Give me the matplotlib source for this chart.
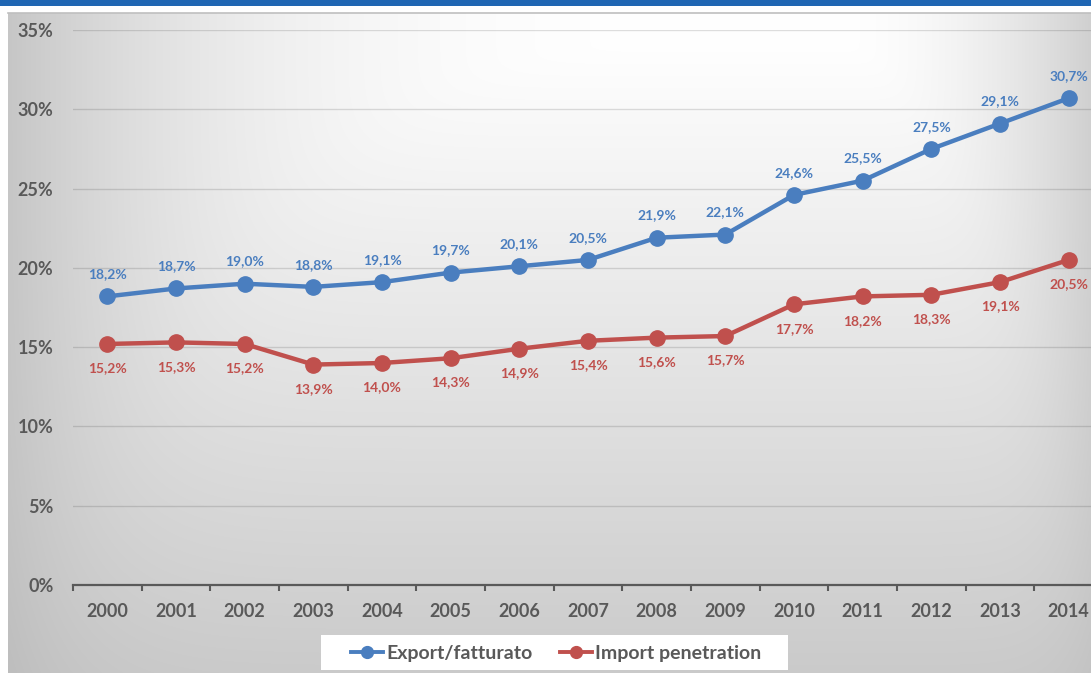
import numpy as np
import matplotlib
matplotlib.use("Agg")
import matplotlib.pyplot as plt
from matplotlib.patches import Rectangle
from matplotlib.ticker import FuncFormatter, FixedLocator

plt.rcParams['font.family'] = ['Lato', 'DejaVu Sans']
plt.rcParams['font.weight'] = 'bold'

years = ['2000', '2001', '2002', '2003', '2004', '2005', '2006', '2007',
         '2008', '2009', '2010', '2011', '2012', '2013', '2014']
export_fatturato = [18.2, 18.7, 19.0, 18.8, 19.1, 19.7, 20.1, 20.5,
                    21.9, 22.1, 24.6, 25.5, 27.5, 29.1, 30.7]
import_penetration = [15.2, 15.3, 15.2, 13.9, 14.0, 14.3, 14.9, 15.4,
                      15.6, 15.7, 17.7, 18.2, 18.3, 19.1, 20.5]
series_names = ['Export/fatturato', 'Import penetration']

BLUE = '#4A7EBF'
RED = '#C0504D'
TXT = '#595959'

W, H = 1091, 673
fig = plt.figure(figsize=(W / 100, H / 100), dpi=100)
fig.patch.set_facecolor('white')

# ---- background gradient ----
bg = fig.add_axes([0, 0, 1, 1])
bg.set_xlim(0, W)
bg.set_ylim(H, 0)
bg.axis('off')
xs = np.arange(8, W) + 0.5
ys = np.arange(13, H) + 0.5
X, Y = np.meshgrid(xs, ys)
cx, cy = 820.0, 40.0
u_left = np.clip((cx - X) / (cx - 8), 0, None)
u_right = np.clip((X - cx) / (W - cx), 0, None)
dx = 57 * u_left ** 3.2 + 47 * u_right ** 2
v = np.clip((Y - cy) / (H - 20 - cy), 0, 1.1)
dy = 51 * v
dark = (dx ** 4 + dy ** 4) ** 0.25
val = np.clip(255 - dark, 185, 255) / 255.0
img = np.dstack([val, val, val])
bg.imshow(img, extent=(8, W, H, 13), aspect='auto', interpolation='bilinear')
bg.add_patch(Rectangle((0, 0), W, 6, color='#1F66B3', lw=0))
bg.plot([8, W], [12.5, 12.5], color='#BFBFBF', lw=1.2)

# ---- main axes ----
ax = fig.add_axes([73 / W, 88 / H, 1030 / W, 555 / H])
ax.patch.set_alpha(0)
x = np.arange(len(years))
ax.set_xlim(-0.5, len(years) - 0.5)
ax.set_ylim(0, 35)

ax.yaxis.set_major_locator(FixedLocator(np.arange(0, 36, 5)))
ax.yaxis.set_major_formatter(FuncFormatter(lambda val, pos: f"{int(val)}%"))
ax.grid(axis='y', color='black', alpha=0.13, lw=1.0)
ax.set_axisbelow(True)
for s in ['left', 'right', 'top']:
    ax.spines[s].set_visible(False)
ax.spines['bottom'].set_color(TXT)
ax.spines['bottom'].set_linewidth(1.6)

ax.set_xticks(x)
ax.set_xticklabels(years)
ax.set_xticks(np.arange(-0.5, len(years) + 0.5, 1), minor=True)
ax.tick_params(axis='x', which='major', length=0, pad=13, labelsize=13,
               labelcolor=TXT)
ax.tick_params(axis='x', which='minor', length=4, width=1.5, color=TXT,
               direction='out')
ax.tick_params(axis='y', length=0, pad=14, labelsize=13, labelcolor=TXT)
for lbl in ax.get_xticklabels() + ax.get_yticklabels():
    lbl.set_fontweight('bold')

l1, = ax.plot(x, export_fatturato, color=BLUE, lw=3.2, marker='o',
              markersize=11, label=series_names[0], zorder=3)
l2, = ax.plot(x, import_penetration, color=RED, lw=3.2, marker='o',
              markersize=11, label=series_names[1], zorder=3)

def fmt(v):
    return f"{v:.1f}".replace('.', ',') + '%'

for xi, v in zip(x, export_fatturato):
    ax.annotate(fmt(v), (xi, v), xytext=(0, 16), textcoords='offset points',
                ha='center', va='center', color=BLUE, fontsize=10,
                fontweight='bold')
for xi, v in zip(x, import_penetration):
    ax.annotate(fmt(v), (xi, v), xytext=(0, -17.5), textcoords='offset points',
                ha='center', va='center', color=RED, fontsize=10,
                fontweight='bold')

# ---- legend ----
bg.add_patch(Rectangle((321, 635), 467, 35, color='white', lw=0, zorder=5))
leg = fig.legend(handles=[l1, l2], loc='center',
                 bbox_to_anchor=(556 / W, 1 - 653 / H), ncol=2,
                 frameon=False, fontsize=14, handlelength=1.65,
                 handletextpad=0.15, columnspacing=1.4)
for t in leg.get_texts():
    t.set_color(TXT)
    t.set_fontweight('bold')
for h in leg.legend_handles:
    h.set_markersize(8.5)
    h.set_linewidth(2.8)

fig.savefig('out.png', dpi=100)
